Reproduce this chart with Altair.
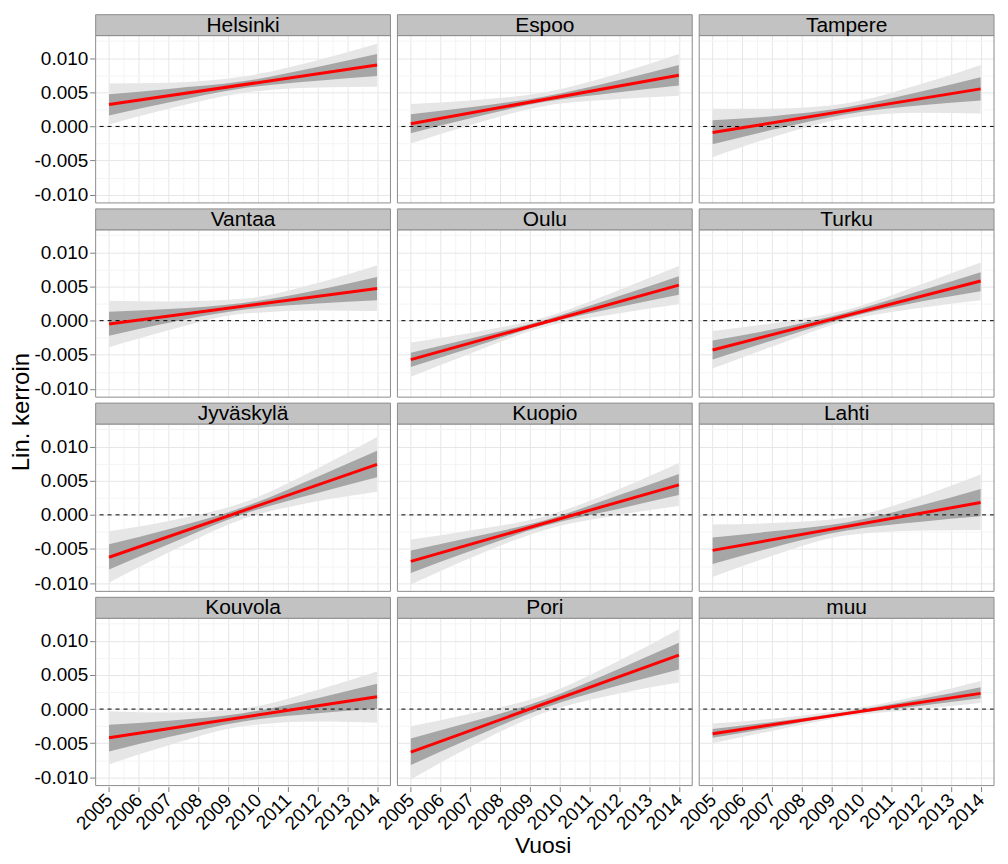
import altair as alt
import pandas as pd

FONT = "Liberation Sans"

cities = ["Helsinki", "Espoo", "Tampere", "Vantaa", "Oulu", "Turku",
          "Jyväskylä", "Kuopio", "Lahti", "Kouvola", "Pori", "muu"]

line_years = [2005, 2014]
line_start = [0.0032, 0.0004, -0.0009, -0.0005, -0.0057, -0.0043,
              -0.0062, -0.0068, -0.0052, -0.0042, -0.0063, -0.0036]
line_end = [0.0090, 0.0075, 0.0055, 0.0047, 0.0052, 0.0058,
            0.0074, 0.0044, 0.0018, 0.0018, 0.0079, 0.0023]

band_years = [2005, 2007, 2009.5, 2012, 2014]

inner_lo = {
    "Helsinki": [0.0016, 0.0035, 0.0056, 0.0067, 0.0074],
    "Espoo": [-0.0010, 0.0012, 0.0036, 0.0050, 0.0060],
    "Tampere": [-0.0026, -0.0005, 0.0018, 0.0031, 0.0038],
    "Vantaa": [-0.0022, -0.0003, 0.0016, 0.0025, 0.0030],
    "Oulu": [-0.0068, -0.0040, -0.0005, 0.0020, 0.0038],
    "Turku": [-0.0057, -0.0029, 0.0004, 0.0028, 0.0043],
    "Jyväskylä": [-0.0080, -0.0043, 0.0001, 0.0032, 0.0055],
    "Kuopio": [-0.0085, -0.0053, -0.0016, 0.0009, 0.0029],
    "Lahti": [-0.0072, -0.0048, -0.0023, -0.0010, -0.0002],
    "Kouvola": [-0.0062, -0.0041, -0.0018, -0.0006, 0.0000],
    "Pori": [-0.0082, -0.0043, 0.0002, 0.0035, 0.0058],
    "muu": [-0.0042, -0.0027, -0.0008, 0.0005, 0.0016],
}
inner_hi = {
    "Helsinki": [0.0047, 0.0055, 0.0066, 0.0087, 0.0106],
    "Espoo": [0.0018, 0.0028, 0.0044, 0.0068, 0.0090],
    "Tampere": [0.0009, 0.0015, 0.0028, 0.0051, 0.0072],
    "Vantaa": [0.0013, 0.0017, 0.0026, 0.0045, 0.0064],
    "Oulu": [-0.0047, -0.0026, 0.0001, 0.0036, 0.0065],
    "Turku": [-0.0029, -0.0013, 0.0012, 0.0044, 0.0071],
    "Jyväskylä": [-0.0043, -0.0021, 0.0011, 0.0056, 0.0094],
    "Kuopio": [-0.0052, -0.0033, -0.0008, 0.0029, 0.0060],
    "Lahti": [-0.0033, -0.0024, -0.0011, 0.0014, 0.0038],
    "Kouvola": [-0.0023, -0.0017, -0.0006, 0.0016, 0.0037],
    "Pori": [-0.0043, -0.0019, 0.0014, 0.0059, 0.0097],
    "muu": [-0.0029, -0.0019, -0.0004, 0.0015, 0.0032],
}
outer_lo = {
    "Helsinki": [0.0003, 0.0026, 0.0049, 0.0057, 0.0058],
    "Espoo": [-0.0025, 0.0002, 0.0030, 0.0040, 0.0045],
    "Tampere": [-0.0045, -0.0016, 0.0012, 0.0020, 0.0019],
    "Vantaa": [-0.0039, -0.0014, 0.0010, 0.0015, 0.0014],
    "Oulu": [-0.0082, -0.0048, -0.0009, 0.0011, 0.0024],
    "Turku": [-0.0070, -0.0038, 0.0000, 0.0019, 0.0030],
    "Jyväskylä": [-0.0099, -0.0055, -0.0006, 0.0020, 0.0034],
    "Kuopio": [-0.0102, -0.0063, -0.0022, 0.0000, 0.0013],
    "Lahti": [-0.0091, -0.0060, -0.0030, -0.0023, -0.0022],
    "Kouvola": [-0.0081, -0.0053, -0.0025, -0.0018, -0.0020],
    "Pori": [-0.0103, -0.0055, -0.0005, 0.0023, 0.0039],
    "muu": [-0.0050, -0.0032, -0.0011, 0.0000, 0.0009],
}
outer_hi = {
    "Helsinki": [0.0063, 0.0064, 0.0073, 0.0097, 0.0121],
    "Espoo": [0.0033, 0.0038, 0.0050, 0.0078, 0.0106],
    "Tampere": [0.0026, 0.0026, 0.0034, 0.0062, 0.0090],
    "Vantaa": [0.0029, 0.0028, 0.0032, 0.0055, 0.0081],
    "Oulu": [-0.0032, -0.0018, 0.0005, 0.0045, 0.0080],
    "Turku": [-0.0015, -0.0004, 0.0016, 0.0053, 0.0085],
    "Jyväskylä": [-0.0024, -0.0009, 0.0018, 0.0068, 0.0114],
    "Kuopio": [-0.0036, -0.0023, -0.0002, 0.0038, 0.0076],
    "Lahti": [-0.0014, -0.0012, -0.0004, 0.0027, 0.0059],
    "Kouvola": [-0.0003, -0.0005, 0.0001, 0.0028, 0.0055],
    "Pori": [-0.0025, -0.0007, 0.0021, 0.0071, 0.0117],
    "muu": [-0.0021, -0.0014, -0.0001, 0.0020, 0.0041],
}

x_ticks = [2005, 2005.5, 2006, 2006.5, 2007, 2007.5, 2008, 2008.5, 2009, 2009.5,
           2010, 2010.5, 2011, 2011.5, 2012, 2012.5, 2013, 2013.5, 2014]
y_ticks = [-0.01, -0.0075, -0.005, -0.0025, 0.0, 0.0025, 0.005, 0.0075, 0.01, 0.0125]

x_title = "Vuosi"
y_title = "Lin. kerroin"

# ---- build the table ----
rows = []
for i, c in enumerate(cities):
    rows.append({"city": c, "kind": "line", "year": line_years[0], "val": line_start[i]})
    rows.append({"city": c, "kind": "line", "year": line_years[1], "val": line_end[i]})
    rows.append({"city": c, "kind": "panel", "year": line_years[0], "val": 0.0})
    for j, yr in enumerate(band_years):
        rows.append({"city": c, "kind": "inner", "year": yr,
                     "lo": inner_lo[c][j], "hi": inner_hi[c][j]})
        rows.append({"city": c, "kind": "outer", "year": yr,
                     "lo": outer_lo[c][j], "hi": outer_hi[c][j]})
df = pd.DataFrame(rows)

W, H = 296, 168
STRIP = 21
LABEL_FS = 19

x_scale = alt.Scale(domain=[2004.55, 2014.45], nice=False, zero=False)
y_scale = alt.Scale(domain=[-0.0112, 0.0133], nice=False, zero=False)

x_axis = alt.Axis(
    values=x_ticks, title=None, domain=False,
    labelExpr="datum.value % 1 == 0 ? format(datum.value, 'd') : ''",
    labelAngle=315, labelAlign="right", labelBaseline="middle",
    labelFontSize=LABEL_FS, labelColor="#000000", labelOverlap=False, labelPadding=5,
    tickSize=5, tickColor="#7F7F7F",
    tickOpacity={"condition": {"test": "datum.value % 1 != 0", "value": 0}, "value": 1},
    gridColor={"condition": {"test": "datum.value % 1 != 0", "value": "#F4F4F4"}, "value": "#E6E6E6"},
    gridWidth=1,
)
y_axis = alt.Axis(
    values=y_ticks, title=None, domain=False,
    labelExpr="abs(round(datum.value * 400)) % 2 == 1 ? '' : (datum.value < -0.0000001 ? '-' : '') + format(abs(datum.value), '.3f')",
    labelFontSize=LABEL_FS, labelColor="#000000", labelPadding=2,
    tickSize=5, tickColor="#7F7F7F",
    tickOpacity={"condition": {"test": "abs(round(datum.value * 400)) % 2 == 1", "value": 0}, "value": 1},
    gridColor={"condition": {"test": "abs(round(datum.value * 400)) % 2 == 1", "value": "#F4F4F4"}, "value": "#E6E6E6"},
    gridWidth=1,
)

base = alt.Chart(df)

outer = base.transform_filter(alt.datum.kind == "outer").mark_area(
    color="#E6E6E6", interpolate="monotone"
).encode(
    x=alt.X("year:Q", scale=x_scale, axis=x_axis),
    y=alt.Y("lo:Q", scale=y_scale, axis=y_axis),
    y2="hi:Q",
)
inner = base.transform_filter(alt.datum.kind == "inner").mark_area(
    color="#A6A6A6", interpolate="monotone"
).encode(
    x=alt.X("year:Q", scale=x_scale, axis=x_axis),
    y=alt.Y("lo:Q", scale=y_scale, axis=y_axis),
    y2="hi:Q",
)
zero = base.transform_filter(alt.datum.kind == "panel").mark_rule(
    color="#000000", strokeWidth=1, strokeDash=[4, 4]
).encode(
    y=alt.Y("val:Q", scale=y_scale, axis=y_axis),
)
line = base.transform_filter(alt.datum.kind == "line").mark_line(
    color="#FF0000", strokeWidth=3
).encode(
    x=alt.X("year:Q", scale=x_scale, axis=x_axis),
    y=alt.Y("val:Q", scale=y_scale, axis=y_axis),
)
border = base.transform_filter(alt.datum.kind == "panel").mark_rect(
    fillOpacity=0, stroke="#8C8C8C", strokeWidth=1
).encode(
    x=alt.value(0), x2=alt.value(W), y=alt.value(0), y2=alt.value(H),
)
strip = base.transform_filter(alt.datum.kind == "panel").mark_rect(
    fill="#C2C2C2", stroke="#8C8C8C", strokeWidth=1
).encode(
    x=alt.value(0), x2=alt.value(W), y=alt.value(-STRIP), y2=alt.value(0),
)
strip_text = base.transform_filter(alt.datum.kind == "panel").mark_text(
    fontSize=21, color="#000000", align="center", baseline="middle", font=FONT
).encode(
    x=alt.value(W / 2), y=alt.value(-STRIP / 2 + 0.5), text="city:N",
)

panel = alt.layer(outer, inner, zero, line, border, strip, strip_text).properties(
    width=W, height=H
)

facet = panel.facet(
    facet=alt.Facet("city:N", sort=cities,
                    header=alt.Header(title=None, labels=False, labelExpr="''",
                                      labelFontSize=1, labelPadding=0)),
    columns=3,
    spacing={"row": 3, "column": 5},
).properties(
    title=alt.TitleParams(x_title, orient="bottom", anchor="middle", fontSize=23,
                          font=FONT, fontWeight="normal", frame="bounds", offset=2,
                          dx=29)
)

ylab = alt.Chart(pd.DataFrame({"t": [y_title]})).mark_text(
    angle=270, fontSize=24, font=FONT, color="#000000", align="center", baseline="middle"
).encode(
    text="t:N", x=alt.value(13), y=alt.value(378),
).properties(width=20, height=700)

chart = alt.hconcat(ylab, facet, spacing=0).properties(
    padding={"left": 1, "top": 3, "right": 5, "bottom": 0}
).configure(font=FONT).configure_view(strokeWidth=0, stroke="transparent")

chart.save("out.html", embed_options={"renderer": "svg", "actions": False})
